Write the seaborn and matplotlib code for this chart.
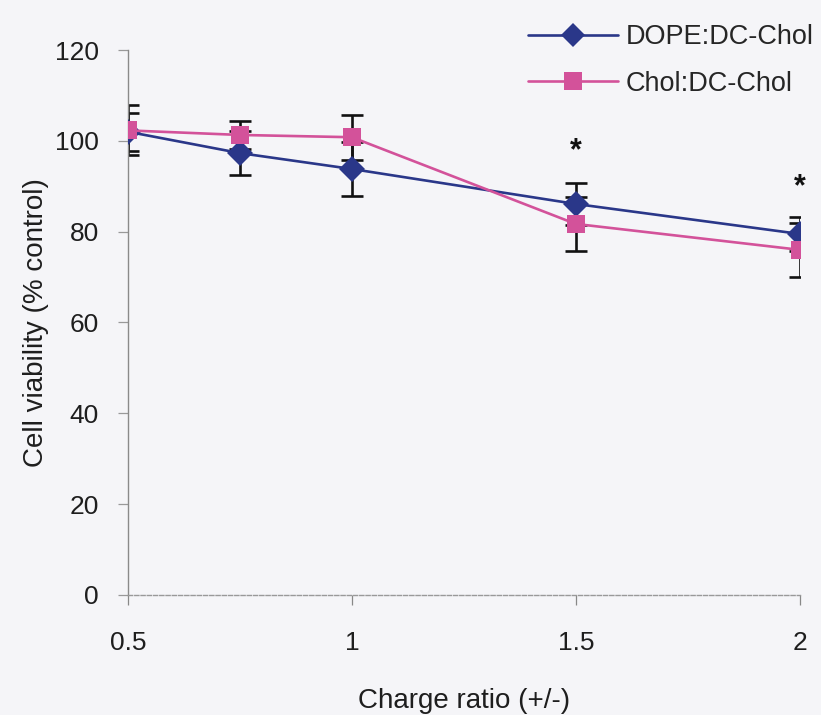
import numpy as np
import pandas as pd
import matplotlib
matplotlib.use("Agg")
import matplotlib.pyplot as plt
import seaborn as sns

# ------------------------------------------------------------------
# DATA
# ------------------------------------------------------------------
charge_ratio = [0.5, 0.75, 1.0, 1.5, 2.0]
dope_mean = [102.0, 97.3, 93.8, 86.1, 79.5]
dope_err = [4.2, 4.8, 6.0, 4.7, 3.7]
chol_mean = [102.3, 101.3, 100.8, 81.7, 76.0]
chol_err = [5.5, 3.0, 5.0, 6.0, 6.0]
series_names = ["DOPE:DC-Chol", "Chol:DC-Chol"]
star_x = [1.5, 2.0]
star_y = [97.8, 89.8]
x_ticks = [0.5, 1, 1.5, 2]
x_tick_labels = ["0.5", "1", "1.5", "2"]
y_ticks = [0, 20, 40, 60, 80, 100, 120]

BLUE = "#2A3789"
PINK = "#D3529A"
BG = "#F5F5F8"
TXT = "#1E1E1E"

sns.set_theme(style="white")
plt.rcParams["font.family"] = ["Liberation Sans", "DejaVu Sans"]

df = pd.DataFrame({
    "x": charge_ratio * 2,
    "y": dope_mean + chol_mean,
    "err": dope_err + chol_err,
    "series": [series_names[0]] * len(charge_ratio) + [series_names[1]] * len(charge_ratio),
})

fig = plt.figure(figsize=(8.21, 7.15), dpi=100, facecolor=BG)
ax = fig.add_axes([0.156, 0.168, 0.818, 0.762])
ax.set_facecolor(BG)

palette = {series_names[0]: BLUE, series_names[1]: PINK}
markers = {series_names[0]: "D", series_names[1]: "s"}

# error bars first (black, behind markers)
for name in series_names:
    sub = df[df["series"] == name]
    ax.errorbar(sub["x"], sub["y"], yerr=sub["err"], fmt="none",
                ecolor="#111111", elinewidth=1.9, capsize=8, capthick=1.9,
                zorder=2)

sns.lineplot(data=df, x="x", y="y", hue="series", style="series",
             palette=palette, markers=markers, dashes=False,
             linewidth=1.9, markersize=13.5, markeredgewidth=0,
             ax=ax, zorder=3, legend=False)

for sx, sy in zip(star_x, star_y):
    ax.text(sx, sy, "*", ha="center", va="center", fontsize=22,
            fontweight="bold", color="#111111")

ax.set_xlim(0.5, 2.0)
ax.set_ylim(0, 120)
ax.set_xticks(x_ticks)
ax.set_xticklabels(x_tick_labels)
ax.set_yticks(y_ticks)
ax.tick_params(axis="both", labelsize=19, colors=TXT)
ax.tick_params(axis="y", direction="out", length=7, width=0.9,
               color="#999999", pad=14, left=True)
ax.tick_params(axis="x", direction="out", length=7, width=0.9,
               color="#888888", pad=19, bottom=True)

for s in ["top", "right"]:
    ax.spines[s].set_visible(False)
ax.spines["left"].set_color("#8a8a8a")
ax.spines["left"].set_linewidth(1.0)
ax.spines["bottom"].set_color("#999999")
ax.spines["bottom"].set_linewidth(1.0)
ax.spines["bottom"].set_linestyle((0, (3, 1.5)))

ax.set_xlabel("Charge ratio (+/-)", fontsize=20, color=TXT, labelpad=24)
ax.set_ylabel("Cell viability (% control)", fontsize=20, color=TXT, labelpad=4)

handles = [
    plt.Line2D([], [], color=BLUE, marker="D", markersize=12, linewidth=1.9,
               markeredgewidth=0),
    plt.Line2D([], [], color=PINK, marker="s", markersize=13, linewidth=1.9,
               markeredgewidth=0),
]
fig.legend(handles, series_names, loc="upper left",
           bbox_to_anchor=(0.627, 0.985), frameon=False, fontsize=19.5,
           borderpad=0, handlelength=3.3, handletextpad=0.3, labelspacing=0.75)

fig.savefig("out.png", dpi=100, facecolor=BG)
